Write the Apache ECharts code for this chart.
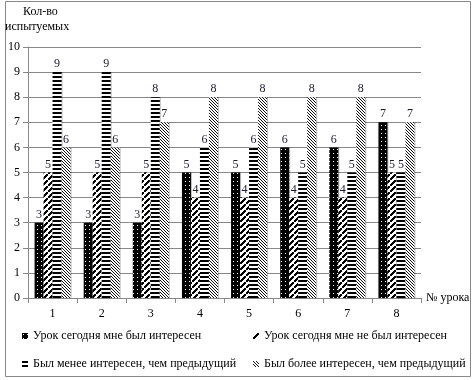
<!DOCTYPE html>
<html><head><meta charset="utf-8">
<script src="https://cdn.jsdelivr.net/npm/echarts@6/dist/echarts.min.js"></script>
<style>html,body{margin:0;padding:0;background:#fff}#c{width:473px;height:380px}</style>
</head><body><div id="c"></div>
<script>
const categories = ['1','2','3','4','5','6','7','8'];
const seriesNames = ['Урок сегодня мне был интересен','Урок сегодня мне не был интересен','Был менее интересен, чем предыдущий','Был более интересен, чем предыдущий'];
const s1 = [3,3,3,5,5,6,6,7];
const s2 = [5,5,5,4,4,4,4,5];
const s3 = [9,9,8,6,6,5,5,5];
const s4 = [6,6,7,8,8,8,8,7];
const yTicks = [0,1,2,3,4,5,6,7,8,9,10];

function tile(w,h,draw){const c=document.createElement('canvas');c.width=w;c.height=h;const x=c.getContext('2d');draw(x);return c;}
const p1 = tile(4,4,x=>{x.fillStyle='#000';x.fillRect(0,0,4,4);x.fillStyle='#fff';x.fillRect(1,1,1,1);});
const p2 = tile(6,6,x=>{x.fillStyle='#fff';x.fillRect(0,0,6,6);x.fillStyle='#000';
  for(let i=0;i<5;i++){x.fillRect(i,4-i,2,2);} });
const p3 = tile(8,4,x=>{x.fillStyle='#fff';x.fillRect(0,0,8,4);x.fillStyle='#000';x.fillRect(0,0,8,2);});
const p4 = tile(3,3,x=>{x.fillStyle='#fff';x.fillRect(0,0,3,3);x.fillStyle='#111';for(let i=0;i<3;i++)x.fillRect(i,i,1,1);});
const pats=[p1,p2,p3,p4];
const data=[s1,s2,s3,s4];
const FONT='"Liberation Serif","Times New Roman",serif';

const chart = echarts.init(document.getElementById('c'));
const series = data.map((d,i)=>({
  name: seriesNames[i], type:'bar', data:d, barWidth:9, barGap:'0%',
  itemStyle:{color:{image:pats[i],repeat:'repeat'}, shadowColor:'rgba(0,0,0,0.25)', shadowOffsetX:1, shadowBlur:0},
  label:{show:true,position:'top',distance:2,fontFamily:FONT,fontSize:12,color:'#1b1b33'},
  emphasis:{disabled:true}, animation:false
}));
const legendPos=[[22,330],[253,330],[22,358],[253,358]];
chart.setOption({
  animation:false,
  grid:{left:28,right:52,top:47,bottom:82,containLabel:false},
  xAxis:{type:'category',data:categories,
    name:'№ урока',nameLocation:'end',nameGap:5,nameTextStyle:{fontFamily:FONT,fontSize:12,color:'#000',verticalAlign:'middle',padding:[0,0,0,0]},
    axisLine:{lineStyle:{color:'#888'}},axisTick:{show:true,length:5,lineStyle:{color:'#888'}},
    axisLabel:{fontFamily:FONT,fontSize:12,color:'#000',margin:10}},
  yAxis:{type:'value',min:0,max:10,interval:1,
    axisLine:{show:true,lineStyle:{color:'#888'}},axisTick:{show:true,length:5,lineStyle:{color:'#888'}},
    splitLine:{lineStyle:{color:'#888',width:1}},
    axisLabel:{fontFamily:FONT,fontSize:12,color:'#000',margin:8,formatter:v=>yTicks.includes(v)?String(v):''}},
  legend: seriesNames.map((n,i)=>({data:[n],left:legendPos[i][0],top:legendPos[i][1],itemWidth:6,itemHeight:6,icon:'rect',padding:0,
    itemStyle:{shadowColor:'transparent',shadowOffsetX:0},
    textStyle:{fontFamily:FONT,fontSize:12,color:'#000'},selectedMode:false})),
  graphic:[
    {type:'rect',shape:{x:5.5,y:1.5,width:465,height:375},style:{fill:'none',stroke:'#888',lineWidth:1},silent:true},
    {type:'text',left:23,top:6,style:{text:'Кол-во',font:'12px '+FONT,fill:'#000'}},
    {type:'text',left:5,top:21,style:{text:'испытуемых',font:'12px '+FONT,fill:'#000'}}
  ],
  series
});
</script></body></html>
